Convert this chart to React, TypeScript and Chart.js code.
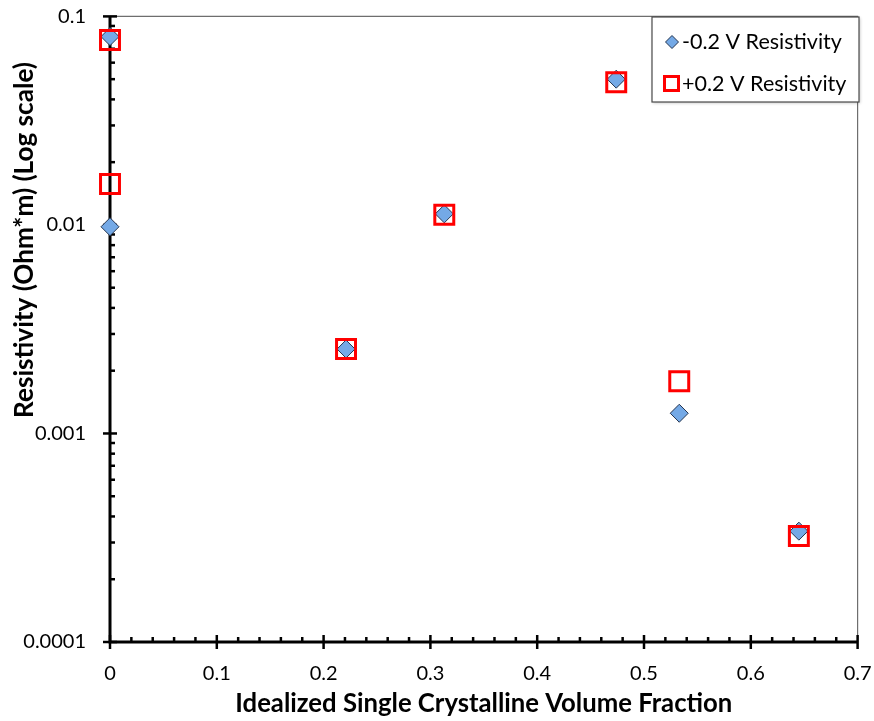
import React, { useEffect, useRef } from "react";
import { Chart, registerables } from "chart.js";

Chart.register(...registerables);

// Data (x = idealized single crystalline volume fraction, y = resistivity Ohm*m)
const negLabel = "-0.2 V Resistivity";
const posLabel = "+0.2 V Resistivity";
const negX = [0, 0, 0.221, 0.313, 0.474, 0.533, 0.645];
const negY = [0.08, 0.0098, 0.00254, 0.0113, 0.05, 0.00125, 0.00034];
const posX = [0, 0, 0.221, 0.313, 0.474, 0.533, 0.645];
const posY = [0.077, 0.0157, 0.00254, 0.0112, 0.0483, 0.00178, 0.000322];
const xTickValues = [0, 0.1, 0.2, 0.3, 0.4, 0.5, 0.6, 0.7];
const yDecades = [0.0001, 0.001, 0.01, 0.1];
const xTitle = "Idealized Single Crystalline Volume Fraction";
const yTitle = "Resistivity (Ohm*m) (Log scale)";

const FONT = "Lato, 'Open Sans', sans-serif";
const DIAMOND_FILL = "#74a9e6";
const DIAMOND_BORDER = "#24344f";
const SQUARE_RED = "#ff0000";

function fitFont(ctx: CanvasRenderingContext2D, text: string, weight: string, target: number) {
  ctx.font = `${weight} 20px ${FONT}`;
  const w = ctx.measureText(text).width;
  const size = (20 * target) / w;
  return `${weight} ${size.toFixed(2)}px ${FONT}`;
}

const axesPlugin = {
  id: "customAxes",
  beforeDatasetsDraw(chart: any) {
    const { ctx, chartArea: a, scales } = chart;
    const xs = scales.x;
    const ys = scales.y;
    ctx.save();
    // frame (top & right)
    ctx.strokeStyle = "#6e6e6e";
    ctx.lineWidth = 1.2;
    ctx.beginPath();
    ctx.moveTo(a.left, a.top);
    ctx.lineTo(a.right, a.top);
    ctx.lineTo(a.right, a.bottom);
    ctx.stroke();

    ctx.strokeStyle = "#000";
    ctx.lineWidth = 2.5;
    // x minor ticks
    for (let i = 0; i <= 35; i++) {
      const v = i * 0.02;
      const px = xs.getPixelForValue(v);
      ctx.beginPath();
      if (i % 5 === 0) {
        ctx.moveTo(px, a.bottom - 7);
        ctx.lineTo(px, a.bottom + 7);
      } else {
        ctx.moveTo(px, a.bottom);
        ctx.lineTo(px, a.bottom - 5);
      }
      ctx.stroke();
    }
    // y ticks
    for (let d = 0; d < yDecades.length; d++) {
      const base = yDecades[d];
      const py = ys.getPixelForValue(base);
      ctx.beginPath();
      ctx.moveTo(a.left - 7, py);
      ctx.lineTo(a.left + 7, py);
      ctx.stroke();
      if (d < yDecades.length - 1) {
        for (let m = 2; m <= 9; m++) {
          const pm = ys.getPixelForValue(base * m);
          ctx.beginPath();
          ctx.moveTo(a.left, pm);
          ctx.lineTo(a.left + 5, pm);
          ctx.stroke();
        }
      }
    }
    // axis lines
    ctx.lineWidth = 3;
    ctx.beginPath();
    ctx.moveTo(a.left, a.top);
    ctx.lineTo(a.left, a.bottom);
    ctx.lineTo(a.right, a.bottom);
    ctx.stroke();

    // titles
    ctx.fillStyle = "#000";
    ctx.font = fitFont(ctx, xTitle, "bold", 497);
    ctx.textAlign = "center";
    ctx.textBaseline = "alphabetic";
    ctx.fillText(xTitle, (a.left + a.right) / 2, 712);

    ctx.save();
    ctx.translate(33, 240);
    ctx.rotate(-Math.PI / 2);
    ctx.font = fitFont(ctx, yTitle, "bold", 356);
    ctx.fillText(yTitle, 0, 0);
    ctx.restore();
    ctx.restore();
  },
  afterDatasetsDraw(chart: any) {
    const { ctx } = chart;
    ctx.save();
    // legend box
    const bx = 652, by = 17, bw = 207, bh = 85;
    ctx.shadowColor = "rgba(0,0,0,0.25)";
    ctx.shadowBlur = 3;
    ctx.shadowOffsetX = 1;
    ctx.shadowOffsetY = 1;
    ctx.fillStyle = "#fff";
    ctx.fillRect(bx, by, bw, bh);
    ctx.shadowColor = "transparent";
    ctx.strokeStyle = "#4a4a4a";
    ctx.lineWidth = 1.2;
    ctx.strokeRect(bx, by, bw, bh);

    // diamond marker
    const dx = 672, dy = 42, r = 6.5;
    ctx.beginPath();
    ctx.moveTo(dx - r, dy);
    ctx.lineTo(dx, dy - r);
    ctx.lineTo(dx + r, dy);
    ctx.lineTo(dx, dy + r);
    ctx.closePath();
    ctx.fillStyle = DIAMOND_FILL;
    ctx.fill();
    ctx.strokeStyle = DIAMOND_BORDER;
    ctx.lineWidth = 1;
    ctx.stroke();
    // square marker
    ctx.strokeStyle = SQUARE_RED;
    ctx.lineWidth = 3;
    ctx.strokeRect(664.5, 76.5, 14, 14);

    ctx.fillStyle = "#000";
    ctx.font = fitFont(ctx, negLabel, "normal", 160);
    ctx.textAlign = "left";
    ctx.textBaseline = "middle";
    ctx.fillText(negLabel, 682, 42);
    ctx.fillText(posLabel, 682, 84);
    ctx.restore();
  },
};

export default function App() {
  const ref = useRef<HTMLCanvasElement>(null);
  useEffect(() => {
    if (!ref.current) return;
    const chart = new Chart(ref.current, {
      type: "scatter",
      data: {
        datasets: [
          {
            label: negLabel,
            data: negX.map((x, i) => ({ x, y: negY[i] })),
            pointStyle: "rectRot",
            pointRadius: 9,
            pointHoverRadius: 9,
            backgroundColor: DIAMOND_FILL,
            borderColor: DIAMOND_BORDER,
            borderWidth: 1,
            order: 2,
            clip: false as any,
          },
          {
            label: posLabel,
            data: posX.map((x, i) => ({ x, y: posY[i] })),
            pointStyle: "rect",
            pointRadius: 13.4,
            pointHoverRadius: 13.4,
            backgroundColor: "rgba(0,0,0,0)",
            borderColor: SQUARE_RED,
            borderWidth: 3,
            order: 1,
            clip: false as any,
          },
        ],
      },
      options: {
        animation: false,
        responsive: false,
        maintainAspectRatio: false,
        layout: { padding: { top: 16, right: 15, left: 0, bottom: 0 } },
        plugins: { legend: { display: false }, tooltip: { enabled: false } },
        events: [],
        scales: {
          x: {
            type: "linear",
            min: 0,
            max: 0.7,
            grid: { display: false, drawTicks: false },
            border: { display: false },
            afterBuildTicks: (s: any) => {
              s.ticks = xTickValues.map((v) => ({ value: v }));
            },
            afterFit: (s: any) => {
              s.height = 79;
              s.paddingLeft = 0;
              s.paddingRight = 0;
            },
            ticks: {
              padding: 20,
              color: "#000",
              font: { family: FONT, size: 20 },
              maxRotation: 0,
              autoSkip: false,
              callback: (v: any) => String(Number(Number(v).toFixed(1))),
            },
          },
          y: {
            type: "logarithmic",
            min: 0.0001,
            max: 0.1,
            grid: { display: false, drawTicks: false },
            border: { display: false },
            afterBuildTicks: (s: any) => {
              s.ticks = yDecades.map((v) => ({ value: v }));
            },
            afterFit: (s: any) => {
              s.width = 110;
              s.paddingTop = 0;
              s.paddingBottom = 0;
            },
            ticks: {
              padding: 24,
              color: "#000",
              font: { family: FONT, size: 20 },
              autoSkip: false,
              callback: (v: any) => String(Number(v)),
            },
          },
        },
      },
      plugins: [axesPlugin],
    } as any);
    return () => chart.destroy();
  }, []);
  return (
    <div style={{ position: "fixed", left: 0, top: 0, width: 874, height: 721, background: "#fff" }}>
      <canvas ref={ref} width={874} height={721} style={{ display: "block" }} />
    </div>
  );
}
